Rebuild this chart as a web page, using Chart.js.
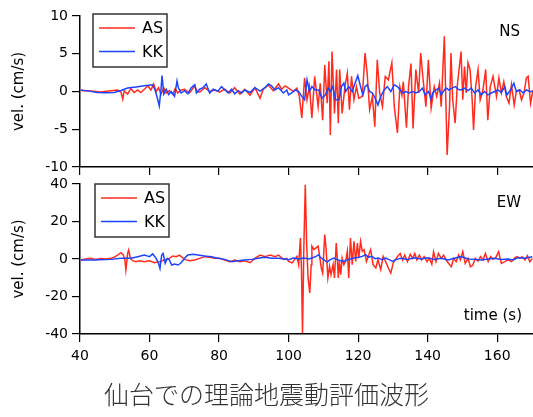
<!DOCTYPE html>
<html>
<head>
<meta charset="utf-8">
<script src="https://cdn.jsdelivr.net/npm/chart.js@4"></script>
<style>
  body { margin: 0; background: #fff; }
  #wrap { position: relative; width: 533px; height: 417px; }
  canvas { position: absolute; left: 0; }
</style>
</head>
<body>
<div id="wrap">
  <canvas id="ns" width="533" height="180" style="top:0"></canvas>
  <canvas id="ew" width="533" height="247" style="top:170px"></canvas>
</div>
<script>
// time (s) / velocity (cm/s) pairs
const nsAS = [
  [40.2,0.13],[43.1,0.05],[46.0,-0.05],[48.9,0.1],[50.8,0.2],[51.8,-0.1],[52.3,-1.0],[52.7,0.1],[53.7,-0.35],[54.6,0.4],
  [55.6,-0.13],[56.6,0.2],[57.5,-0.13],[58.5,0.3],[59.5,0.75],[60.4,0.2],[61.2,1.0],[61.9,0],[62.6,0.5],[63.3,-0.35],
  [64.1,0.5],[64.8,-0.2],[65.7,0.1],[66.7,-0.35],[67.4,0.4],[68.1,-0.2],[69.1,0.2],[70.1,0.3],[71.5,-0.2],[73.0,0.75],
  [73.7,0],[74.4,-0.1],[75.9,0.5],[77.3,0],[78.8,0.2],[80.2,-0.1],[81.6,0.3],[83.1,-0.2],[84.5,0.5],[86.0,-0.35],
  [87.4,0.3],[88.9,-0.5],[90.3,0.5],[91.8,-0.9],[92.7,0.3],[94.2,0.85],[95.6,0.1],[97.1,1.0],[98.0,0.3],[99.0,0.75],
  [100.0,0.45],[101.4,0],[102.4,0.45],[103.1,-0.65],[103.8,-3.5],[104.6,1.8],[105.3,-1.1],[106.0,0.65],[106.7,-3.5],[107.5,2.0],
  [108.5,-2.0],[109.1,1.1],[109.8,-3.8],[110.4,3.5],[111.1,-1.55],[111.6,4.0],[112.0,-5.75],[112.5,5.3],[113.2,-2.9],[113.8,2.9],
  [114.3,-4.2],[114.7,2.9],[115.4,-2.9],[116.2,0.65],[116.9,2.4],[117.5,-2.4],[118.1,2.0],[118.8,-1.1],[119.5,0.65],[120.2,-0.9],
  [121.2,-0.65],[122.0,5.1],[122.6,2.4],[123.3,-2.4],[124.1,-0.65],[124.8,-4.65],[125.5,4.2],[126.2,-0.2],[127.0,-2.0],[127.8,2.0],
  [128.7,1.55],[129.7,3.8],[130.4,-2.0],[131.3,-5.5],[132.0,0.65],[132.6,-0.5],[133.0,1.3],[133.9,-4.8],[134.5,0.65],[135.2,3.7],
  [135.8,-4.9],[136.6,2.9],[137.4,-0.2],[138.0,5.1],[138.7,1.55],[139.5,-2.0],[140.2,4.2],[141.0,-2.2],[141.9,0.65],[142.6,-0.65],
  [143.4,1.1],[143.9,-2.0],[144.8,7.3],[145.6,-8.4],[146.3,-2.0],[146.7,5.1],[147.2,-1.1],[147.9,-4.2],[148.5,0.65],[149.6,5.3],
  [150.1,-1.1],[150.6,3.3],[151.1,-0.2],[151.6,3.8],[152.2,2.9],[152.8,-1.1],[153.2,-5.1],[153.8,0.65],[154.5,2.9],[155.1,-1.1],
  [155.9,0.2],[156.7,2.9],[157.3,-3.8],[158.0,0.65],[158.8,2.0],[159.8,-0.65],[160.5,1.8],[161.2,-0.2],[161.9,1.3],[162.6,-0.65],
  [163.4,-1.55],[164.1,0.9],[164.9,-1.8],[165.5,0],[166.3,0.2],[167.0,-1.1],[167.7,-0.2],[168.4,1.8],[168.9,2.0],[169.6,-1.55],
  [170.3,0.2]
];
const nsKK = [
  [40.2,0.2],[42.6,0.05],[45.0,-0.13],[47.4,-0.18],[49.8,-0.13],[51.8,0.13],[53.7,0.45],[56.1,0.6],[58.5,0.75],[60.9,0.9],
  [61.6,0.2],[62.2,-0.8],[62.8,-1.9],[63.3,0.3],[63.6,2.1],[64.1,-0.35],[64.8,0.3],[65.5,-0.4],[66.2,0],[67.2,-0.65],
  [67.9,1.4],[68.3,0.5],[69.1,-0.2],[70.1,0.1],[71.0,-0.3],[72.0,0.5],[73.0,0.9],[73.5,-0.2],[74.4,0.3],[75.4,0.5],
  [76.3,1.0],[77.3,-0.2],[78.3,0.3],[79.7,0.05],[80.7,0.65],[81.7,0.2],[82.6,-0.2],[83.6,0.3],[84.5,-0.3],[85.5,0.1],
  [86.5,-0.2],[87.4,0.2],[88.9,-0.13],[90.3,0.5],[91.8,0.05],[93.2,0.5],[94.2,1.0],[95.1,0.75],[96.1,0.2],[97.1,0.5],
  [98.5,-0.2],[99.5,0.2],[100.0,-0.45],[100.9,-0.2],[101.9,0.2],[102.9,0],[103.8,-0.65],[104.6,-1.1],[105.3,1.55],[106.0,0],
  [106.7,0.65],[107.7,0.2],[108.7,0.2],[109.6,-0.9],[110.6,-0.45],[111.4,0.45],[112.0,0],[112.7,0.65],[113.5,-1.1],[114.5,-1.1],
  [115.2,0.65],[115.9,1.1],[116.4,0],[117.3,0.65],[118.3,0],[119.1,1.1],[119.9,2.1],[120.7,0.65],[121.4,-0.45],[122.0,0.65],
  [122.6,0.9],[123.3,0],[124.1,-0.2],[125.1,-1.1],[125.7,-1.8],[126.5,-0.65],[127.5,0.2],[128.4,0.65],[129.4,0],[130.4,0.9],
  [131.3,0.65],[132.8,-0.2],[133.7,0],[134.7,-0.2],[135.7,0],[136.6,-0.2],[137.6,0],[138.5,0.45],[139.3,-0.45],[140.3,0],
  [141.0,-1.1],[141.4,-0.2],[142.4,0.2],[143.2,0.45],[143.9,-0.45],[144.5,0],[145.3,0.45],[146.1,0.2],[147.0,0.45],[148.0,0.65],
  [148.7,0.3],[149.6,0.2],[150.6,0.45],[151.6,0.13],[152.5,0.45],[153.5,-0.2],[154.5,0.2],[155.4,-0.45],[156.4,0],[157.3,-0.45],
  [158.3,-0.2],[159.3,0],[160.2,0.2],[161.2,-0.13],[162.2,0.65],[162.8,-0.45],[163.8,0.2],[164.8,1.1],[165.5,0],[166.5,0.2],
  [167.5,-0.2],[168.4,0.2],[169.4,0],[170.3,0]
];
const ewAS = [
  [40.2,-0.5],[41.6,0],[43.1,0.35],[44.5,-0.2],[46.0,0.2],[47.4,0],[48.9,0.35],[49.8,0.9],[50.8,2.1],[51.8,3.4],
  [52.5,2.1],[52.9,-0.5],[53.2,-5.9],[53.7,3.0],[54.0,4.8],[54.5,0.35],[55.1,-0.9],[56.1,-1.4],[57.1,-0.9],[58.5,-1.4],
  [60.0,-0.9],[61.4,-2.0],[62.9,-1.4],[64.3,-0.5],[65.7,0.35],[66.7,1.6],[67.7,1.25],[68.6,2.1],[70.1,-0.2],[71.5,-0.9],
  [73.0,-0.5],[74.4,0.35],[75.9,1.25],[77.3,0.9],[78.8,0.35],[80.2,0.35],[81.6,-0.5],[83.1,-1.4],[84.5,-0.5],[86.0,-1.4],
  [87.4,-0.9],[88.9,-2.0],[90.3,0.35],[91.8,2.1],[93.2,1.25],[94.7,2.1],[96.1,1.25],[97.1,2.1],[98.5,-0.2],[99.5,0.35],
  [100.0,-1.25],[101.0,-2.1],[101.7,-0.35],[102.4,1.4],[102.9,-3.0],[103.4,11.2],[103.7,-4.8],[104.0,-39.5],[104.4,7.6],[104.8,39.6],
  [105.2,7.6],[105.6,-10.1],[106.1,-18.1],[106.5,-3.0],[106.7,6.8],[107.3,5.0],[107.9,5.9],[108.5,6.8],[109.0,0.5],[109.4,-4.8],
  [109.8,-7.5],[110.4,13.0],[110.8,5.0],[111.3,-10.1],[111.8,-3.9],[112.2,-8.4],[112.8,-3.0],[113.2,-10.1],[113.7,8.5],[114.0,0.5],
  [114.3,-10.1],[114.6,-1.25],[115.0,-8.4],[115.4,0.5],[115.9,-3.0],[116.4,-1.25],[116.9,4.1],[117.3,-10.1],[117.8,11.2],[118.3,-3.0],
  [118.8,9.4],[119.3,-1.25],[119.8,8.5],[120.2,0.5],[120.7,9.4],[121.2,4.1],[121.7,5.0],[122.4,-1.25],[122.9,1.4],[123.6,5.0],
  [124.3,-3.0],[125.1,-4.8],[125.7,-0.35],[126.5,-5.7],[127.2,1.4],[127.9,-1.25],[128.7,-4.8],[129.4,-7.5],[130.1,-2.1],[131.3,1.25],
  [132.1,3.0],[132.8,-0.5],[133.4,2.1],[134.2,-1.4],[135.0,2.5],[135.7,0.35],[136.3,3.0],[136.9,-0.5],[137.6,2.1],[138.3,-0.5],
  [139.0,1.25],[139.8,-1.4],[140.5,0.35],[141.2,-2.8],[141.7,3.9],[142.4,-1.4],[143.1,3.0],[143.9,0.35],[144.6,2.1],[145.3,-0.5],
  [146.0,-2.3],[146.8,-4.1],[147.5,0.35],[148.2,-1.4],[148.9,2.1],[149.4,-0.5],[150.1,3.9],[150.8,-2.3],[151.6,0.35],[152.3,-4.1],
  [153.0,-3.2],[153.7,0.35],[154.5,-1.1],[155.2,1.25],[155.9,-0.5],[156.6,3.0],[157.4,-1.4],[158.1,1.25],[158.8,-0.2],[159.6,0.7],
  [160.4,3.9],[161.2,-2.3],[162.2,-1.4],[163.1,-0.5],[164.1,-1.4],[165.1,0.7],[165.8,1.25],[166.5,0.35],[167.2,1.25],[168.0,-0.5],
  [168.7,1.8],[169.4,-1.4],[170.1,0.35]
];
const ewKK = [
  [40.2,-0.5],[44.1,-0.5],[48.9,-0.2],[51.8,0.35],[54.7,0.35],[56.6,1.25],[58.5,2.1],[60.0,1.25],[60.9,2.7],[61.9,0.35],
  [62.6,-2.3],[63.0,-5.0],[63.5,2.1],[63.9,3.0],[64.5,-2.3],[65.1,0.35],[65.7,-0.5],[66.4,-3.2],[67.2,-2.7],[68.2,-3.2],
  [69.1,-2.0],[70.1,0.35],[71.0,2.1],[72.5,2.5],[73.9,2.1],[75.9,1.6],[77.8,1.25],[79.7,0.35],[81.6,-0.2],[83.6,-1.4],
  [85.5,-0.9],[87.4,-0.5],[89.4,-0.2],[91.3,0.35],[93.2,0.9],[95.1,0.35],[97.1,0.35],[99.0,0],[100.0,-0.35],[101.4,0.5],
  [102.9,0],[104.3,0.5],[105.8,0],[106.7,0.5],[107.9,1.4],[108.7,2.3],[109.1,0.9],[110.1,-0.35],[111.1,-1.6],[112.0,-0.35],
  [113.0,0.5],[114.0,-0.35],[114.9,-0.9],[115.9,-1.25],[116.9,-0.35],[117.8,0],[118.8,0.5],[120.2,0.9],[121.2,1.4],[122.2,2.3],
  [122.9,0.9],[123.9,1.4],[124.9,0.2],[125.8,0.5],[127.0,-0.35],[127.9,0.5],[128.9,-0.35],[129.9,-1.25],[130.8,-0.35],[131.8,0.2],
  [132.3,0.35],[134.2,-0.2],[136.1,0.7],[138.1,0],[140.0,0.7],[141.9,-0.2],[143.9,0.35],[145.8,-0.5],[147.7,0.35],[149.6,1.25],
  [151.6,0],[153.5,-0.2],[155.4,-0.5],[157.4,0],[159.3,0.35],[161.2,-0.2],[163.1,0],[164.6,-0.5],[166.0,0.7],[168.0,0.35],
  [170.1,1.25]
];

const seriesNames = ['AS', 'KK'];
const timeTicks = { min: 40, max: 170.3, step: 20 };
const nsRange = { min: -10, max: 10, step: 5 };
const ewRange = { min: -40, max: 40, step: 20 };

const FONT = 'DejaVu Sans';
const AS_COLOR = '#ff2b1c';
const KK_COLOR = '#1d45ff';

const toPoints = pairs => pairs.map(([x, y]) => ({ x, y }));

// boxed legend inside the plot + the corner labels (NS / EW / time (s))
const panelText = {
  id: 'panelText',
  afterDraw(chart, args, opts) {
    const { ctx, chartArea } = chart;
    const bx = chartArea.left + opts.box[0];
    const by = chartArea.top + opts.box[1];
    ctx.save();
    ctx.fillStyle = '#fff';
    ctx.fillRect(bx, by, 74, 53);
    ctx.strokeStyle = '#333';
    ctx.lineWidth = 1.5;
    ctx.strokeRect(bx, by, 74, 53);
    ctx.font = `16px "${FONT}"`;
    ctx.textBaseline = 'middle';
    ctx.textAlign = 'left';
    chart.data.datasets.forEach((ds, i) => {
      const ly = by + 14 + i * 23.5;
      ctx.strokeStyle = ds.borderColor;
      ctx.lineWidth = 1.4;
      ctx.beginPath();
      ctx.moveTo(bx + 6, ly);
      ctx.lineTo(bx + 42, ly);
      ctx.stroke();
      ctx.fillStyle = '#000';
      ctx.fillText(ds.label, bx + 49, ly + 1);
    });
    ctx.font = `15px "${FONT}"`;
    ctx.textAlign = 'right';
    opts.labels.forEach(l => ctx.fillText(l.text, l.x, l.y));
    ctx.restore();
  }
};

const makeChart = (id, as, kk, range, cfg) => {
  return new Chart(document.getElementById(id), {
    type: 'line',
    data: {
      datasets: [
        { label: seriesNames[0], data: toPoints(as), borderColor: AS_COLOR, order: 1 },
        { label: seriesNames[1], data: toPoints(kk), borderColor: KK_COLOR, order: 0 }
      ]
    },
    options: {
      responsive: false,
      animation: false,
      events: [],
      layout: { padding: { top: cfg.padTop, left: 0, right: 0, bottom: 0 } },
      elements: {
        line: { borderWidth: 1.5, tension: 0, fill: false },
        point: { radius: 0 }
      },
      scales: {
        x: {
          type: 'linear',
          min: timeTicks.min,
          max: timeTicks.max,
          ticks: {
            stepSize: timeTicks.step,
            includeBounds: false,
            display: cfg.xLabels,
            color: '#000',
            padding: 6,
            font: { family: FONT, size: 14 }
          },
          grid: { drawOnChartArea: false, tickLength: 8, color: '#000', lineWidth: 1.2 },
          border: { color: '#000', width: 1.5 },
          afterFit: s => { s.height = cfg.xHeight; }
        },
        y: {
          min: range.min,
          max: range.max,
          ticks: {
            stepSize: range.step,
            color: '#000',
            padding: 4,
            font: { family: FONT, size: 14 }
          },
          grid: { drawOnChartArea: false, tickLength: 8, color: '#000', lineWidth: 1.2 },
          border: { color: '#000', width: 1.5 },
          title: {
            display: true,
            text: 'vel. (cm/s)',
            color: '#000',
            padding: { top: 10 },
            font: { family: FONT, size: 15 }
          },
          afterFit: s => { s.width = 80; }
        }
      },
      plugins: {
        legend: { display: false },
        tooltip: { enabled: false },
        title: cfg.title,
        panelText: { box: cfg.box, labels: cfg.labels }
      }
    },
    plugins: [panelText]
  });
};

makeChart('ns', nsAS, nsKK, nsRange, {
  padTop: 16,
  xHeight: 13,
  xLabels: false,
  title: { display: false },
  box: [13, -2],
  labels: [{ text: 'NS', x: 520, y: 32 }]
});

makeChart('ew', ewAS, ewKK, ewRange, {
  padTop: 14,
  xHeight: 35,
  xLabels: true,
  title: {
    display: true,
    position: 'bottom',
    text: '仙台での理論地震動評価波形',
    color: '#333',
    padding: { top: 10, bottom: 8 },
    font: { family: '"Noto Sans CJK JP"', size: 25, weight: '300' }
  },
  box: [15, 0],
  labels: [{ text: 'EW', x: 521, y: 33 }, { text: 'time (s)', x: 522, y: 146 }]
});
</script>
</body>
</html>
